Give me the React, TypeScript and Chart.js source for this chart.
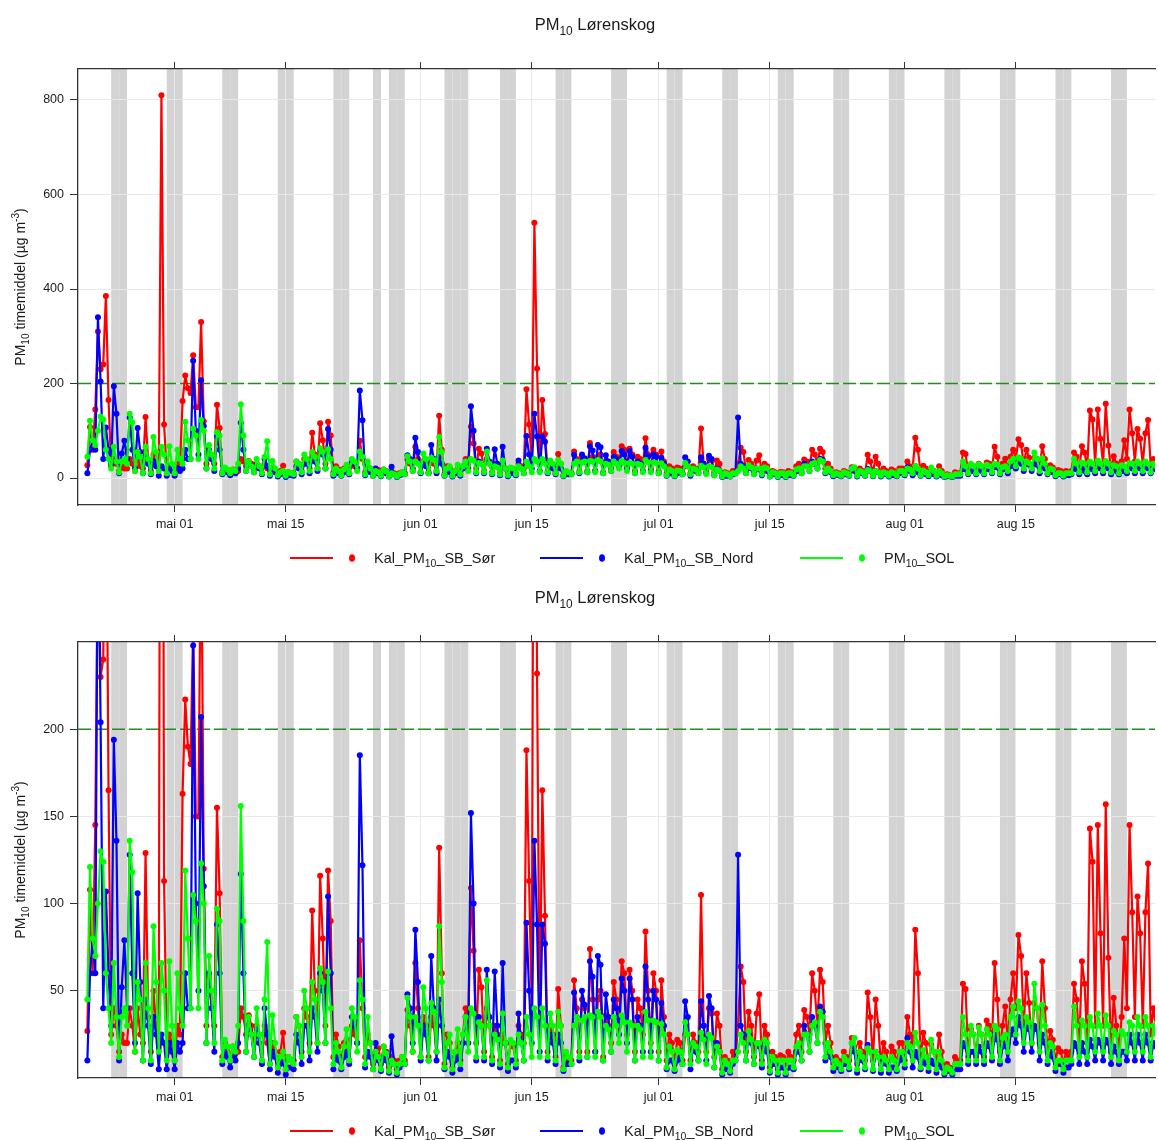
import React, { useEffect, useRef } from 'react';
import { Chart, registerables } from 'chart.js';

Chart.register(...registerables);

// Hourly PM10 reduced to three readings per day (00, 08, 16 UTC), starting 2022-04-20.
const SERIES_START = Date.UTC(2022, 3, 20);
const SLOT_HOURS = [0, 8, 16];

// Kal_PM10_SB_Sør, one row per week (7 days x 3 readings)
const sorValues = [
  27, 108, 60, 145, 310, 230, 240, 385, 165, 25, 40, 30, 15, 25, 20, 20, 40, 30, 15, 40, 25,
  20, 129, 35, 15, 50, 30, 20, 810, 113, 15, 25, 20, 10, 30, 25, 163, 217, 190, 180, 260, 150,
  150, 330, 120, 30, 58, 40, 30, 155, 106, 12, 20, 15, 10, 18, 14, 15, 40, 35, 25, 36, 30,
  20, 30, 25, 10, 30, 20, 8, 20, 15, 6, 15, 26, 5, 12, 10, 10, 35, 30, 15, 40, 35,
  20, 96, 50, 20, 116, 80, 30, 119, 90, 12, 25, 18, 10, 20, 22, 10, 30, 25, 20, 79, 40,
  12, 25, 20, 8, 15, 17, 8, 18, 15, 6, 12, 10, 5, 10, 12, 10, 39, 30, 15, 66, 40,
  12, 35, 30, 12, 35, 30, 15, 132, 60, 8, 25, 20, 6, 15, 20, 10, 25, 40, 30, 109, 73,
  20, 62, 52, 15, 40, 30, 12, 30, 25, 10, 25, 20, 8, 20, 18, 10, 30, 25, 20, 188, 113,
  40, 540, 232, 30, 165, 93, 15, 30, 25, 12, 51, 30, 6, 12, 10, 10, 56, 40, 15, 45, 40,
  15, 74, 45, 15, 45, 50, 12, 36, 30, 20, 55, 45, 30, 67, 60, 25, 62, 50, 15, 45, 40,
  25, 84, 50, 20, 60, 50, 15, 56, 35, 10, 25, 20, 8, 22, 20, 10, 25, 25, 10, 25, 20,
  15, 105, 30, 15, 40, 37, 12, 37, 30, 5, 12, 10, 5, 15, 12, 30, 64, 55, 15, 38, 30,
  12, 37, 48, 10, 30, 25, 6, 15, 12, 5, 13, 12, 5, 15, 12, 10, 25, 30, 15, 39, 35,
  25, 60, 50, 30, 62, 55, 20, 30, 20, 8, 12, 10, 8, 15, 12, 10, 23, 18, 8, 20, 15,
  10, 49, 35, 10, 45, 30, 8, 20, 15, 6, 18, 15, 8, 20, 20, 10, 35, 25, 20, 85, 60,
  10, 26, 20, 8, 19, 15, 8, 25, 15, 4, 8, 6, 4, 12, 10, 10, 54, 51, 12, 28, 25,
  12, 30, 25, 12, 33, 30, 20, 66, 45, 15, 30, 41, 20, 45, 60, 40, 82, 70, 30, 60, 43,
  20, 43, 40, 20, 67, 40, 15, 27, 22, 10, 17, 15, 8, 15, 12, 15, 54, 45, 20, 67, 54,
  20, 143, 124, 30, 145, 83, 30, 157, 69, 15, 46, 30, 15, 35, 80, 40, 145, 95, 35, 104, 83,
  30, 95, 123, 25, 40, 30,
];

// Kal_PM10_SB_Nord
const nordValues = [
  10, 60, 80, 60, 340, 204, 40, 107, 60, 30, 194, 136, 10, 52, 79, 40, 128, 60, 20, 106, 55,
  10, 45, 30, 8, 35, 25, 5, 25, 20, 5, 20, 15, 5, 20, 15, 20, 60, 40, 40, 248, 100,
  50, 207, 110, 20, 60, 40, 15, 88, 60, 8, 15, 12, 6, 12, 10, 20, 117, 60, 15, 30, 25,
  12, 28, 20, 8, 40, 25, 5, 15, 12, 3, 8, 10, 2, 6, 6, 5, 25, 20, 8, 30, 30,
  10, 40, 35, 15, 60, 50, 20, 104, 60, 5, 12, 10, 5, 12, 15, 8, 35, 30, 20, 185, 122,
  6, 15, 12, 5, 20, 10, 4, 12, 10, 3, 24, 8, 2, 6, 8, 8, 48, 40, 20, 85, 55,
  10, 30, 25, 10, 70, 40, 10, 45, 30, 5, 15, 12, 3, 10, 12, 5, 20, 35, 20, 152, 100,
  10, 35, 30, 10, 62, 35, 8, 61, 30, 6, 66, 20, 4, 10, 10, 6, 37, 20, 10, 89, 50,
  20, 136, 88, 15, 88, 77, 10, 25, 20, 8, 25, 20, 4, 8, 8, 8, 49, 35, 10, 50, 42,
  12, 67, 58, 15, 70, 65, 10, 48, 35, 15, 45, 40, 25, 57, 50, 20, 57, 45, 10, 35, 30,
  15, 64, 45, 15, 50, 45, 10, 43, 30, 5, 10, 10, 4, 10, 12, 8, 44, 35, 5, 20, 15,
  10, 44, 30, 10, 47, 40, 6, 20, 15, 2, 5, 5, 3, 8, 10, 128, 30, 25, 10, 25, 20,
  8, 20, 18, 6, 20, 15, 3, 8, 8, 2, 6, 6, 2, 6, 6, 5, 15, 15, 10, 30, 25,
  15, 35, 30, 20, 41, 38, 10, 15, 12, 4, 8, 6, 4, 8, 8, 5, 20, 15, 3, 12, 10,
  5, 19, 15, 4, 15, 12, 3, 10, 8, 3, 6, 6, 4, 10, 12, 6, 23, 15, 6, 15, 12,
  5, 10, 8, 4, 10, 8, 3, 8, 6, 2, 4, 4, 2, 5, 5, 5, 20, 18, 8, 15, 15,
  8, 18, 15, 8, 20, 18, 10, 25, 22, 8, 18, 20, 10, 25, 28, 20, 35, 30, 15, 30, 28,
  15, 30, 28, 10, 25, 20, 8, 15, 12, 4, 8, 8, 3, 6, 6, 8, 20, 18, 8, 20, 15,
  8, 22, 18, 10, 22, 20, 10, 22, 20, 8, 18, 15, 8, 15, 15, 10, 25, 20, 10, 25, 20,
  10, 25, 20, 10, 20, 18,
];

// PM10_SOL
const solValues = [
  45, 121, 80, 70, 100, 130, 124, 60, 40, 20, 66, 35, 12, 35, 40, 30, 136, 118, 15, 55, 45,
  10, 66, 40, 10, 87, 55, 15, 66, 50, 10, 67, 30, 10, 60, 40, 30, 119, 80, 40, 105, 90,
  40, 123, 100, 20, 70, 50, 20, 97, 90, 10, 22, 18, 10, 18, 15, 30, 156, 90, 15, 35, 25,
  12, 40, 25, 10, 45, 78, 8, 36, 20, 6, 12, 15, 5, 12, 10, 8, 35, 30, 12, 50, 40,
  15, 55, 45, 20, 63, 55, 20, 61, 40, 8, 20, 15, 6, 18, 28, 10, 40, 35, 15, 56, 45,
  8, 35, 20, 5, 15, 12, 5, 18, 14, 4, 10, 8, 3, 8, 12, 8, 46, 35, 15, 35, 30,
  12, 52, 40, 10, 43, 38, 15, 87, 55, 6, 20, 25, 5, 15, 28, 8, 25, 35, 15, 40, 37,
  12, 32, 30, 12, 56, 30, 10, 25, 22, 8, 37, 20, 6, 22, 20, 8, 25, 20, 10, 35, 25,
  12, 40, 35, 12, 40, 30, 12, 37, 30, 10, 38, 30, 5, 15, 12, 8, 30, 35, 12, 33, 35,
  12, 36, 35, 12, 38, 35, 10, 30, 28, 15, 35, 30, 20, 36, 32, 15, 32, 30, 10, 30, 28,
  12, 38, 33, 12, 33, 32, 10, 31, 25, 6, 18, 15, 5, 16, 15, 8, 32, 25, 8, 20, 18,
  10, 26, 22, 8, 25, 23, 6, 18, 15, 3, 10, 8, 4, 10, 10, 15, 25, 20, 10, 27, 22,
  8, 20, 20, 8, 22, 20, 4, 12, 10, 3, 10, 10, 3, 10, 10, 6, 18, 20, 10, 25, 25,
  15, 30, 32, 20, 38, 35, 12, 20, 15, 6, 10, 8, 5, 12, 10, 6, 20, 23, 5, 15, 12,
  6, 17, 15, 5, 15, 12, 5, 12, 10, 5, 12, 10, 5, 15, 15, 8, 20, 18, 10, 26, 20,
  6, 16, 12, 6, 22, 15, 5, 15, 10, 3, 6, 5, 3, 8, 8, 8, 35, 25, 10, 30, 25,
  10, 29, 25, 10, 28, 25, 12, 30, 28, 10, 23, 25, 15, 35, 41, 25, 44, 40, 20, 35, 32,
  20, 54, 40, 15, 42, 30, 10, 20, 18, 6, 10, 10, 5, 10, 10, 10, 41, 30, 12, 33, 30,
  12, 35, 30, 15, 37, 30, 15, 36, 30, 12, 27, 25, 10, 27, 25, 15, 32, 30, 15, 35, 30,
  15, 35, 30, 12, 30, 25,
];

// x-axis ticks
const tickDates = ['2022-05-01', '2022-05-15', '2022-06-01', '2022-06-15', '2022-07-01', '2022-07-15', '2022-08-01', '2022-08-15'];
const tickLabels = ['mai 01', 'mai 15', 'jun 01', 'jun 15', 'jul 01', 'jul 15', 'aug 01', 'aug 15'];

// Days shaded together with weekends
const holidayDates = ['2022-05-26', '2022-06-06'];

// Hourly limit value
const limitValue = 200;

const DAY_MS = 86400000;
const HOUR_MS = 3600000;
const MAY1 = Date.UTC(2022, 4, 1);
const X_MIN = MAY1 - 12.18 * DAY_MS;
const X_MAX = MAY1 + 123.54 * DAY_MS;
const FONT = '"Liberation Sans", Arial, Helvetica, sans-serif';

const toMs = (d: string) => {
  const [y, m, dd] = d.split('-').map(Number);
  return Date.UTC(y, m - 1, dd);
};
const tickValues = tickDates.map(toMs);
const holidayMs = holidayDates.map(toMs);

const times = sorValues.map((_, i) => SERIES_START + Math.floor(i / 3) * DAY_MS + SLOT_HOURS[i % 3] * HOUR_MS);

type Part = { t: string; sub?: boolean; sup?: boolean };

const seriesDefs = [
  { parts: [{ t: 'Kal_PM' }, { t: '10', sub: true }, { t: '_SB_Sør' }] as Part[], name: 'Kal_PM10_SB_Sør', values: sorValues, color: '#ff0000', order: 3 },
  { parts: [{ t: 'Kal_PM' }, { t: '10', sub: true }, { t: '_SB_Nord' }] as Part[], name: 'Kal_PM10_SB_Nord', values: nordValues, color: '#0000ff', order: 2 },
  { parts: [{ t: 'PM' }, { t: '10', sub: true }, { t: '_SOL' }] as Part[], name: 'PM10_SOL', values: solValues, color: '#00ff00', order: 1 },
];

const titleParts: Part[] = [{ t: 'PM' }, { t: '10', sub: true }, { t: ' Lørenskog' }];
const yTitleParts: Part[] = [{ t: 'PM' }, { t: '10', sub: true }, { t: ' timemiddel (µg m' }, { t: '-3', sup: true }, { t: ')' }];

function drawRich(ctx: CanvasRenderingContext2D, parts: Part[], x: number, y: number, size: number, align: 'left' | 'center', color: string) {
  const sizeOf = (p: Part) => (p.sub || p.sup ? size * 0.72 : size);
  let total = 0;
  for (const p of parts) {
    ctx.font = `${sizeOf(p)}px ${FONT}`;
    total += ctx.measureText(p.t).width;
  }
  let cx = align === 'center' ? x - total / 2 : x;
  ctx.fillStyle = color;
  ctx.textAlign = 'left';
  ctx.textBaseline = 'alphabetic';
  for (const p of parts) {
    ctx.font = `${sizeOf(p)}px ${FONT}`;
    const dy = p.sub ? size * 0.3 : p.sup ? -size * 0.42 : 0;
    ctx.fillText(p.t, cx, y + dy);
    cx += ctx.measureText(p.t).width;
  }
}

type PanelSpec = {
  height: number;
  plotTop: number;
  plotBottom: number;
  yMin: number;
  yMax: number;
  yTicks: number[];
  titleBaseline: number;
  legendY: number;
};

const TOP_PANEL: PanelSpec = { height: 578, plotTop: 69, plotBottom: 505, yMin: -57.1, yMax: 865.6, yTicks: [0, 200, 400, 600, 800], titleBaseline: 30, legendY: 558 };
const BOTTOM_PANEL: PanelSpec = { height: 562, plotTop: 64, plotBottom: 500, yMin: 0, yMax: 250, yTicks: [50, 100, 150, 200], titleBaseline: 25, legendY: 553 };

const X_AXIS_H = 30;
const TOP_AXIS_H = 7;

function makeChart(canvas: HTMLCanvasElement, spec: PanelSpec) {
  const decorations = {
    id: 'panelDecorations',
    beforeDraw(chart: any) {
      const { ctx, chartArea } = chart;
      const xs = chart.scales.x;
      ctx.save();
      ctx.fillStyle = '#d3d3d3';
      for (let d = Date.UTC(2022, 3, 16); d < X_MAX; d += DAY_MS) {
        const wd = new Date(d).getUTCDay();
        if (wd === 0 || wd === 6 || holidayMs.includes(d)) {
          const x0 = Math.max(xs.getPixelForValue(d), chartArea.left);
          const x1 = Math.min(xs.getPixelForValue(d + DAY_MS), chartArea.right);
          if (x1 > x0) ctx.fillRect(x0, chartArea.top, x1 - x0, chartArea.bottom - chartArea.top);
        }
      }
      ctx.restore();
    },
    beforeDatasetsDraw(chart: any) {
      const { ctx, chartArea } = chart;
      const y = chart.scales.y.getPixelForValue(limitValue);
      ctx.save();
      ctx.strokeStyle = '#228b22';
      ctx.lineWidth = 1.5;
      ctx.setLineDash([13, 4]);
      ctx.beginPath();
      ctx.moveTo(chartArea.left, y);
      ctx.lineTo(chartArea.right, y);
      ctx.stroke();
      ctx.restore();
    },
    afterDraw(chart: any) {
      const { ctx, chartArea } = chart;
      ctx.save();
      drawRich(ctx, titleParts, 595, spec.titleBaseline, 16.5, 'center', '#1a1a1a');
      // rotated y-axis title
      ctx.translate(25, (chartArea.top + chartArea.bottom) / 2);
      ctx.rotate(-Math.PI / 2);
      drawRich(ctx, yTitleParts, 0, 0, 14, 'center', '#1a1a1a');
      ctx.restore();
      // legend
      ctx.save();
      const starts = [290, 540, 800];
      seriesDefs.forEach((s, i) => {
        const x0 = starts[i];
        const y = spec.legendY;
        ctx.strokeStyle = s.color;
        ctx.lineWidth = 2;
        ctx.beginPath();
        ctx.moveTo(x0, y);
        ctx.lineTo(x0 + 43, y);
        ctx.stroke();
        ctx.fillStyle = s.color;
        ctx.beginPath();
        ctx.ellipse(x0 + 62, y, 3, 3.8, 0, 0, Math.PI * 2);
        ctx.fill();
        drawRich(ctx, s.parts, x0 + 84, y + 5, 14.5, 'left', '#1a1a1a');
      });
      ctx.restore();
    },
  };

  return new Chart(canvas, {
    type: 'line',
    data: {
      datasets: seriesDefs.map((s) => ({
        label: s.name,
        data: s.values.map((v, i) => ({ x: times[i], y: v })),
        borderColor: s.color,
        backgroundColor: s.color,
        pointBackgroundColor: s.color,
        pointBorderWidth: 0,
        pointRadius: 3,
        borderWidth: 2.2,
        borderJoinStyle: 'round',
        borderCapStyle: 'round',
        tension: 0,
        order: s.order,
      })),
    },
    options: {
      animation: false,
      responsive: false,
      maintainAspectRatio: false,
      events: [],
      layout: {
        padding: {
          left: 0,
          right: 0,
          top: spec.plotTop - TOP_AXIS_H,
          bottom: spec.height - spec.plotBottom - X_AXIS_H,
        },
      },
      plugins: { legend: { display: false }, title: { display: false }, tooltip: { enabled: false } },
      scales: {
        x: {
          type: 'linear',
          position: 'bottom',
          min: X_MIN,
          max: X_MAX,
          afterBuildTicks: (scale: any) => {
            scale.ticks = tickValues.map((v) => ({ value: v }));
          },
          afterFit: (scale: any) => {
            scale.height = X_AXIS_H;
          },
          ticks: {
            autoSkip: false,
            maxRotation: 0,
            padding: 5,
            color: '#1a1a1a',
            font: { family: FONT, size: 12.5 },
            callback: (value: any) => {
              const i = tickValues.indexOf(Number(value));
              return i >= 0 ? tickLabels[i] : '';
            },
          },
          grid: { color: '#e8e8e8', lineWidth: 1, tickColor: '#333333', tickLength: 7, drawTicks: true },
          border: { display: true, color: '#333333', width: 1.3 },
        },
        xTop: {
          type: 'linear',
          position: 'top',
          min: X_MIN,
          max: X_MAX,
          afterBuildTicks: (scale: any) => {
            scale.ticks = tickValues.map((v) => ({ value: v }));
          },
          afterFit: (scale: any) => {
            scale.height = TOP_AXIS_H;
          },
          ticks: { display: false },
          grid: { drawOnChartArea: false, tickColor: '#333333', tickLength: 7, drawTicks: true },
          border: { display: true, color: '#333333', width: 1.3 },
        },
        y: {
          type: 'linear',
          position: 'left',
          min: spec.yMin,
          max: spec.yMax,
          afterBuildTicks: (scale: any) => {
            scale.ticks = spec.yTicks.map((v) => ({ value: v }));
          },
          afterFit: (scale: any) => {
            scale.width = 78;
          },
          ticks: {
            padding: 6,
            color: '#1a1a1a',
            font: { family: FONT, size: 12.5 },
            callback: (value: any) => String(value),
          },
          grid: { color: '#e8e8e8', lineWidth: 1, tickColor: '#333333', tickLength: 8, drawTicks: true },
          border: { display: true, color: '#333333', width: 1.3 },
        },
      },
    },
    plugins: [decorations],
  } as any);
}

export default function App() {
  const topRef = useRef<HTMLCanvasElement>(null);
  const bottomRef = useRef<HTMLCanvasElement>(null);

  useEffect(() => {
    document.body.style.margin = '0';
    const charts: Chart[] = [];
    if (topRef.current) charts.push(makeChart(topRef.current, TOP_PANEL));
    if (bottomRef.current) charts.push(makeChart(bottomRef.current, BOTTOM_PANEL));
    return () => charts.forEach((c) => c.destroy());
  }, []);

  return (
    <div style={{ position: 'relative', width: 1159, height: 1140, background: '#ffffff' }}>
      <canvas ref={topRef} width={1159} height={TOP_PANEL.height} style={{ display: 'block', width: 1159, height: TOP_PANEL.height }} />
      <canvas ref={bottomRef} width={1159} height={BOTTOM_PANEL.height} style={{ display: 'block', width: 1159, height: BOTTOM_PANEL.height }} />
    </div>
  );
}
